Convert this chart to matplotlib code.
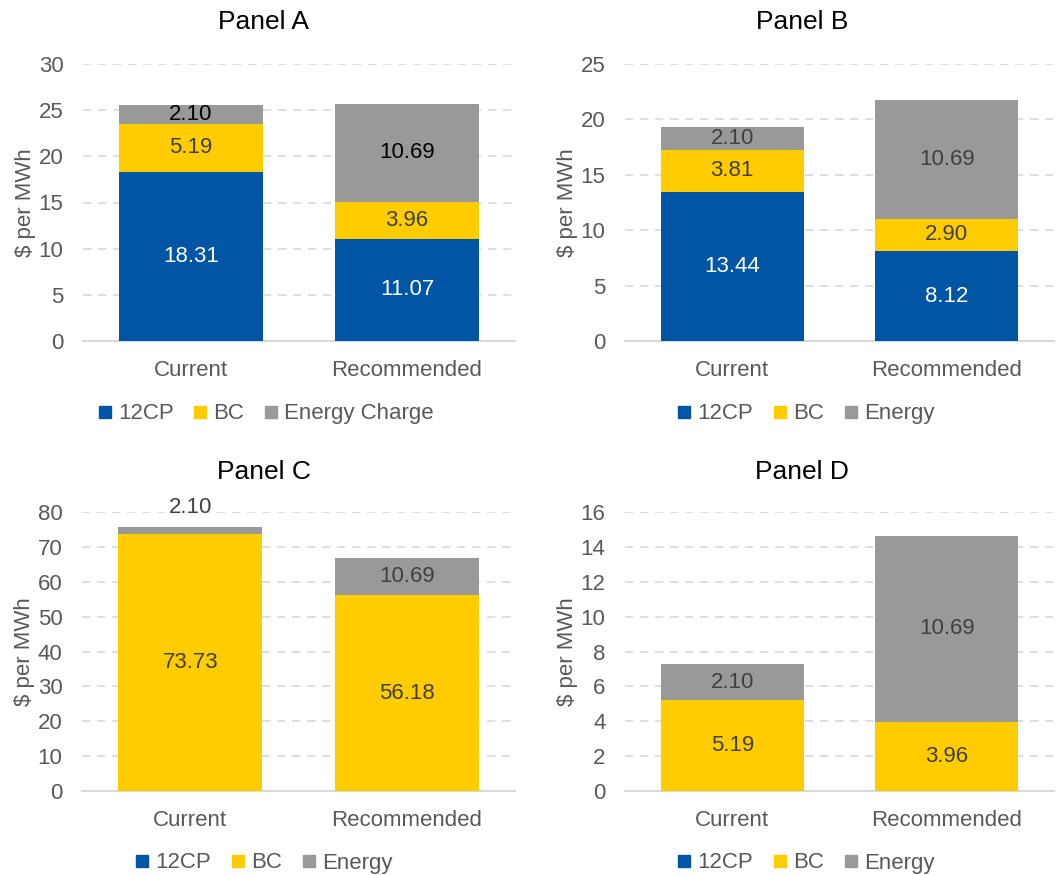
"""
Stacked bar panels: transmission cost per MWh, current vs recommended.
"""

import matplotlib
matplotlib.use("Agg")
import matplotlib.pyplot as plt
from matplotlib.lines import Line2D

plt.rcParams['font.family'] = ['Liberation Sans', 'DejaVu Sans']

# ==============================================================================
#                               Data
# ==============================================================================

categories = ["Current", "Recommended"]

cp_a = [18.31, 11.07]
bc_a = [5.19, 3.96]
energy_a = [2.10, 10.69]

cp_b = [13.44, 8.12]
bc_b = [3.81, 2.90]
energy_b = [2.10, 10.69]

cp_c = [0.0, 0.0]
bc_c = [73.73, 56.18]
energy_c = [2.10, 10.69]

cp_d = [0.0, 0.0]
bc_d = [5.19, 3.96]
energy_d = [2.10, 10.69]

blue = "#0055A5"
yellow = "#FFCC00"
gray = "#999999"
tick_col = "#595959"
grid_col = "#D9D9D9"

W, H = 1056, 875


def px_rect(left, right, top, bottom):
    return [left / W, 1 - bottom / H, (right - left) / W, (bottom - top) / H]


def draw_panel(ax, title, title_xy, cp, bc, energy, ymax, ystep,
               energy_name, energy_lbl_col, legend_xy, above_small=False):
    x = list(range(len(categories)))
    width = 0.667
    segs = [(cp, blue, "white"), (bc, yellow, "#404040"),
            (energy, gray, energy_lbl_col)]
    bottom = [0.0] * len(x)
    for vals, col, lbl_col in segs:
        ax.bar(x, vals, width, bottom=bottom, color=col, zorder=3)
        for i, v in enumerate(vals):
            if v <= 0:
                continue
            if above_small and v / ymax < 0.04:
                # too thin to hold its label, so put it above the bar
                ax.annotate(f"{v:.2f}", (x[i], bottom[i] + v),
                            xytext=(0, 14), textcoords="offset points",
                            ha="center", va="center", fontsize=16,
                            color="#404040")
            else:
                ax.text(x[i], bottom[i] + v / 2, f"{v:.2f}", ha="center",
                        va="center", fontsize=16, color=lbl_col, zorder=4)
        bottom = [b + v for b, v in zip(bottom, vals)]

    ax.set_xlim(-0.5, len(x) - 0.5)
    ax.set_ylim(0, ymax)
    ax.set_yticks(range(0, ymax + 1, ystep))
    ax.set_xticks(x)
    ax.set_xticklabels(categories)
    ax.tick_params(axis='y', length=0, pad=14, labelsize=16,
                   labelcolor=tick_col)
    ax.tick_params(axis='x', length=0, pad=14, labelsize=16,
                   labelcolor=tick_col)
    ax.grid(axis='y', color=grid_col, linestyle=(0, (5, 4)), linewidth=1.2,
            zorder=0)
    for s in ["top", "right", "left"]:
        ax.spines[s].set_visible(False)
    ax.spines["bottom"].set_color(grid_col)
    ax.spines["bottom"].set_linewidth(1.5)
    ax.set_ylabel("$ per MWh", fontsize=16, color=tick_col, labelpad=2)

    fig.text(title_xy[0] / W, 1 - title_xy[1] / H, title, fontsize=19,
             ha="center", va="center")

    handles = [Line2D([], [], marker="s", linestyle="none", markersize=8,
                      color=c) for c in (blue, yellow, gray)]
    fig.legend(handles, ["12CP", "BC", energy_name], ncol=3, frameon=False,
               loc="center", bbox_to_anchor=(legend_xy[0] / W,
                                             1 - legend_xy[1] / H),
               fontsize=16, labelcolor=tick_col, handlelength=0.6,
               handletextpad=0.3, columnspacing=0.9)


fig = plt.figure(figsize=(10.56, 8.75), dpi=100)

ax_a = fig.add_axes(px_rect(83, 515, 64, 341))
draw_panel(ax_a, "Panel A", (264, 22), cp_a, bc_a, energy_a, 30, 5,
           "Energy Charge", "black", (266, 414))

ax_b = fig.add_axes(px_rect(625, 1054, 64, 341))
draw_panel(ax_b, "Panel B", (802, 22), cp_b, bc_b, energy_b, 25, 5,
           "Energy", "#404040", (806, 414))

ax_c = fig.add_axes(px_rect(82, 515, 512, 791))
draw_panel(ax_c, "Panel C", (264, 472), cp_c, bc_c, energy_c, 80, 10,
           "Energy", "#404040", (264, 863), above_small=True)

ax_d = fig.add_axes(px_rect(625, 1054, 512, 791))
draw_panel(ax_d, "Panel D", (802, 472), cp_d, bc_d, energy_d, 16, 2,
           "Energy", "#404040", (806, 863))

fig.savefig("out.png", dpi=100)
